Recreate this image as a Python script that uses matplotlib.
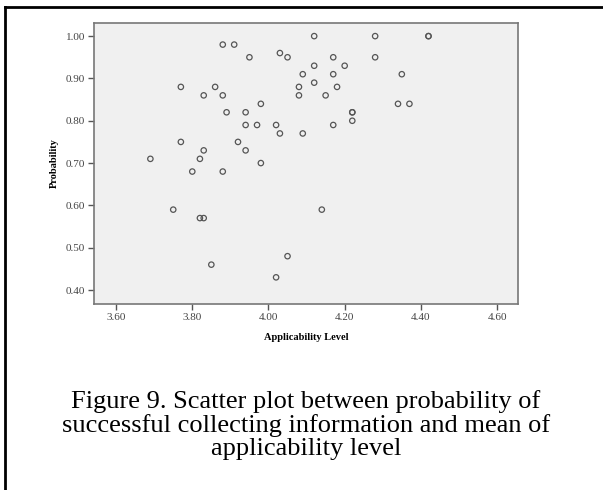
import matplotlib
matplotlib.use('Agg')
import matplotlib.pyplot as plt
from matplotlib.lines import Line2D

# Datos (Applicability Level vs Probability)
applicability = [4.12, 4.28, 4.42, 4.42, 3.88, 3.91, 4.03, 3.95, 4.05, 4.17,
                 4.28, 4.12, 4.20, 4.09, 4.17, 4.35, 3.77, 3.86, 4.08, 4.12,
                 4.18, 3.83, 3.88, 4.08, 4.15, 3.98, 4.34, 4.37, 3.89, 3.94,
                 4.22, 4.22, 4.22, 3.94, 3.97, 4.02, 4.17, 4.03, 4.09, 3.77,
                 3.92, 3.83, 3.94, 3.69, 3.82, 3.98, 3.80, 3.88, 3.75, 4.14,
                 3.82, 3.83, 4.05, 3.85, 4.02]
probability = [1.00, 1.00, 1.00, 1.00, 0.98, 0.98, 0.96, 0.95, 0.95, 0.95,
               0.95, 0.93, 0.93, 0.91, 0.91, 0.91, 0.88, 0.88, 0.88, 0.89,
               0.88, 0.86, 0.86, 0.86, 0.86, 0.84, 0.84, 0.84, 0.82, 0.82,
               0.82, 0.82, 0.80, 0.79, 0.79, 0.79, 0.79, 0.77, 0.77, 0.75,
               0.75, 0.73, 0.73, 0.71, 0.71, 0.70, 0.68, 0.68, 0.59, 0.59,
               0.57, 0.57, 0.48, 0.46, 0.43]

x_ticks = [3.60, 3.80, 4.00, 4.20, 4.40, 4.60]
y_ticks = [0.40, 0.50, 0.60, 0.70, 0.80, 0.90, 1.00]

caption = ('Figure 9. Scatter plot between probability of\n'
           'successful collecting information and mean of\n'
           'applicability level')

fig = plt.figure(figsize=(6.03, 4.90), dpi=100)
fig.patch.set_facecolor('white')

ax = fig.add_axes([94/603, 1 - 304/490, (518 - 94)/603, (304 - 23)/490])
ax.set_facecolor('#f0f0f0')
ax.scatter(applicability, probability, s=15, facecolors='none',
           edgecolors='#555555', linewidths=0.9)

ax.set_xlim(3.542, 4.655)
ax.set_ylim(0.367, 1.031)
ax.set_xticks(x_ticks)
ax.set_xticklabels([f'{v:.2f}' for v in x_ticks])
ax.set_yticks(y_ticks)
ax.set_yticklabels([f'{v:.2f}' for v in y_ticks])

for sp in ax.spines.values():
    sp.set_color('#777777')
    sp.set_linewidth(1.2)
ax.tick_params(axis='both', direction='out', length=4.5, width=1.0,
               color='#555555', labelsize=8, labelcolor='#444444', pad=2)
for lbl in ax.get_xticklabels() + ax.get_yticklabels():
    lbl.set_family('Liberation Serif')

ax.set_xlabel('Applicability Level', family='Liberation Serif',
              fontweight='bold', fontsize=7.5, labelpad=8)
ax.set_ylabel('Probability', family='Liberation Serif',
              fontweight='bold', fontsize=7.5, labelpad=5)

# Marco del documento (línea superior e izquierda)
fig.add_artist(Line2D([5/603, 602/603], [1 - 7/490, 1 - 7/490],
                      color='black', linewidth=2, transform=fig.transFigure))
fig.add_artist(Line2D([5/603, 5/603], [1 - 7/490, 0],
                      color='black', linewidth=2, transform=fig.transFigure))

fig.text(306/603, 1 - 425/490, caption, ha='center', va='center',
         family='Liberation Serif', fontsize=19, linespacing=1.06)

fig.savefig('out.png', dpi=100)
